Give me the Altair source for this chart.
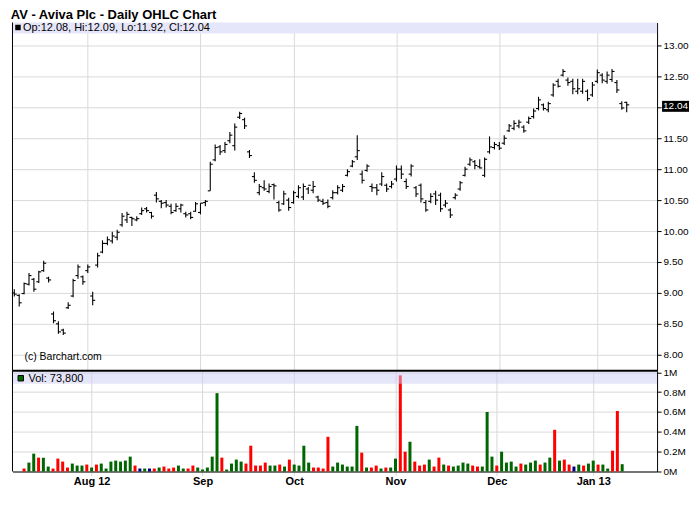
import altair as alt
import pandas as pd

# ---------------- data ----------------
bar_index = list(range(1, 127))

highs = [9.06, 8.98, 9.17, 9.32, 9.24, 9.36, 9.52, 9.26, 8.70, 8.54,
         8.42, 8.85, 9.23, 9.46, 9.28, 9.46, 9.02, 9.65, 9.85, 9.91,
         9.99, 10.02, 10.29, 10.31, 10.23, 10.24, 10.38, 10.39, 10.31, 10.63,
         10.50, 10.50, 10.44, 10.45, 10.44, 10.31, 10.31, 10.47, 10.45, 10.50,
         11.12, 11.40, 11.39, 11.44, 11.60, 11.74, 11.93, 11.83, 11.31, 10.95,
         10.76, 10.82, 10.77, 10.77, 10.49, 10.65, 10.54, 10.65, 10.74, 10.77,
         10.71, 10.81, 10.57, 10.52, 10.51, 10.66, 10.74, 10.76, 11.00, 11.15,
         11.55, 10.98, 11.08, 10.77, 10.76, 10.95, 10.77, 10.81, 11.06, 11.06,
         10.85, 11.08, 10.73, 10.77, 10.50, 10.61, 10.65, 10.62, 10.50, 10.37,
         10.61, 10.81, 11.04, 11.19, 11.15, 11.16, 11.19, 11.53, 11.44, 11.44,
         11.55, 11.73, 11.79, 11.80, 11.71, 11.85, 11.98, 12.17, 12.06, 12.09,
         12.39, 12.46, 12.62, 12.48, 12.46, 12.46, 12.46, 12.29, 12.41, 12.61,
         12.55, 12.58, 12.62, 12.44, 12.10, 12.09]

lows = [8.94, 8.78, 8.98, 9.12, 9.02, 9.16, 9.34, 9.17, 8.51, 8.34,
        8.32, 8.74, 8.93, 9.23, 9.13, 9.32, 8.80, 9.41, 9.64, 9.77,
        9.80, 9.85, 10.07, 10.13, 10.08, 10.16, 10.26, 10.30, 10.20, 10.46,
        10.37, 10.38, 10.27, 10.31, 10.30, 10.22, 10.19, 10.31, 10.27, 10.40,
        10.65, 11.13, 11.23, 11.26, 11.42, 11.30, 11.81, 11.65, 11.18, 10.78,
        10.58, 10.65, 10.61, 10.51, 10.31, 10.42, 10.33, 10.44, 10.53, 10.50,
        10.60, 10.61, 10.47, 10.42, 10.37, 10.51, 10.59, 10.63, 10.88, 11.03,
        11.15, 10.77, 10.96, 10.63, 10.58, 10.73, 10.63, 10.69, 10.80, 10.84,
        10.68, 10.88, 10.55, 10.46, 10.31, 10.45, 10.42, 10.31, 10.38, 10.21,
        10.51, 10.65, 10.88, 11.05, 11.00, 11.01, 10.87, 11.25, 11.32, 11.31,
        11.39, 11.60, 11.63, 11.66, 11.59, 11.73, 11.82, 11.95, 11.95, 11.92,
        12.17, 12.32, 12.50, 12.35, 12.21, 12.21, 12.22, 12.10, 12.17, 12.39,
        12.39, 12.38, 12.41, 12.23, 11.96, 11.92]

opens = [9.00, 8.96, 8.99, 9.14, 9.22, 9.18, 9.36, 9.24, 8.66, 8.50,
         8.40, 8.76, 8.95, 9.28, 9.26, 9.36, 8.95, 9.45, 9.66, 9.80,
         9.84, 9.90, 10.10, 10.18, 10.22, 10.18, 10.28, 10.36, 10.30, 10.58,
         10.48, 10.46, 10.40, 10.33, 10.36, 10.28, 10.28, 10.32, 10.30, 10.46,
         10.65, 11.15, 11.36, 11.30, 11.46, 11.38, 11.84, 11.80, 11.28, 10.88,
         10.62, 10.70, 10.64, 10.75, 10.46, 10.44, 10.50, 10.46, 10.56, 10.55,
         10.68, 10.66, 10.55, 10.48, 10.46, 10.54, 10.62, 10.66, 10.90, 11.05,
         11.20, 10.92, 10.98, 10.72, 10.70, 10.76, 10.74, 10.72, 10.84, 11.00,
         10.80, 10.92, 10.70, 10.74, 10.46, 10.48, 10.60, 10.58, 10.42, 10.34,
         10.54, 10.68, 10.90, 11.08, 11.12, 11.04, 10.90, 11.28, 11.35, 11.38,
         11.42, 11.62, 11.66, 11.70, 11.68, 11.76, 11.85, 11.98, 12.04, 11.96,
         12.20, 12.42, 12.52, 12.44, 12.42, 12.26, 12.26, 12.26, 12.20, 12.42,
         12.52, 12.42, 12.45, 12.40, 12.06, 12.08]

closes = [8.98, 8.84, 9.15, 9.28, 9.06, 9.34, 9.48, 9.21, 8.55, 8.37,
          8.35, 8.80, 9.20, 9.42, 9.18, 9.42, 8.88, 9.60, 9.80, 9.86,
          9.92, 9.98, 10.24, 10.27, 10.20, 10.20, 10.33, 10.33, 10.24, 10.52,
          10.45, 10.42, 10.30, 10.40, 10.42, 10.26, 10.22, 10.44, 10.45, 10.48,
          11.08, 11.35, 11.28, 11.40, 11.55, 11.68, 11.90, 11.70, 11.22, 10.82,
          10.72, 10.68, 10.72, 10.73, 10.34, 10.60, 10.38, 10.62, 10.70, 10.72,
          10.74, 10.72, 10.50, 10.45, 10.40, 10.62, 10.70, 10.72, 10.96, 11.12,
          11.30, 10.82, 11.05, 10.70, 10.66, 10.88, 10.68, 10.76, 11.00, 10.92,
          10.72, 11.05, 10.60, 10.52, 10.34, 10.56, 10.50, 10.36, 10.45, 10.26,
          10.58, 10.78, 11.00, 11.15, 11.06, 11.02, 11.16, 11.36, 11.40, 11.34,
          11.50, 11.70, 11.74, 11.76, 11.62, 11.82, 11.94, 12.12, 11.98, 12.06,
          12.36, 12.34, 12.58, 12.40, 12.30, 12.30, 12.42, 12.14, 12.36, 12.56,
          12.44, 12.52, 12.58, 12.28, 11.99, 12.04]

# volume in millions of shares
volumes = [0.0, 0.03, 0.09, 0.18, 0.14, 0.14, 0.05, 0.03, 0.13, 0.10,
           0.04, 0.08, 0.06, 0.06, 0.07, 0.04, 0.07, 0.08, 0.03, 0.10,
           0.11, 0.10, 0.11, 0.15, 0.06, 0.03, 0.03, 0.03, 0.03, 0.04,
           0.05, 0.03, 0.04, 0.06, 0.03, 0.03, 0.06, 0.04, 0.02, 0.04,
           0.15, 0.79, 0.14, 0.02, 0.08, 0.12, 0.10, 0.08, 0.26, 0.06,
           0.06, 0.09, 0.06, 0.06, 0.07, 0.05, 0.12, 0.07, 0.06, 0.26,
           0.09, 0.04, 0.04, 0.03, 0.35, 0.05, 0.09, 0.07, 0.05, 0.05,
           0.46, 0.19, 0.04, 0.04, 0.06, 0.03, 0.04, 0.04, 0.13, 0.97,
           0.20, 0.30, 0.10, 0.06, 0.07, 0.12, 0.05, 0.14, 0.07, 0.06,
           0.05, 0.06, 0.09, 0.08, 0.06, 0.05, 0.05, 0.60, 0.15, 0.06,
           0.20, 0.09, 0.10, 0.05, 0.08, 0.07, 0.09, 0.11, 0.07, 0.09,
           0.14, 0.42, 0.11, 0.12, 0.07, 0.05, 0.07, 0.06, 0.08, 0.11,
           0.07, 0.07, 0.03, 0.21, 0.61, 0.0738]

# volume bar colour: u = close up, d = close down, n = unchanged
vol_dir = ["u", "d", "u", "u", "d", "u", "u", "d", "d", "d",
           "d", "u", "u", "u", "d", "u", "d", "u", "u", "u",
           "u", "u", "u", "u", "d", "n", "u", "n", "d", "u",
           "d", "d", "d", "u", "u", "d", "d", "u", "u", "u",
           "u", "u", "d", "u", "u", "u", "u", "d", "d", "d",
           "d", "d", "u", "u", "d", "u", "d", "u", "u", "u",
           "u", "d", "d", "d", "d", "u", "u", "u", "u", "u",
           "u", "d", "u", "d", "d", "u", "d", "u", "u", "d",
           "d", "u", "d", "d", "d", "u", "d", "d", "u", "d",
           "u", "u", "u", "u", "d", "d", "u", "u", "u", "d",
           "u", "u", "u", "u", "d", "u", "u", "u", "d", "u",
           "u", "d", "u", "d", "d", "n", "u", "d", "u", "u",
           "d", "u", "u", "d", "d", "u"]

month_ticks = [16, 39, 58, 79, 100, 120]
month_labels = ["Aug 12", "Sep", "Oct", "Nov", "Dec", "Jan 13"]
price_ticks = [8.0, 8.5, 9.0, 9.5, 10.0, 10.5, 11.0, 11.5, 12.0, 12.5, 13.0]
vol_ticks = [0.0, 0.2, 0.4, 0.6, 0.8, 1.0]
vol_last_text = "73,800"
title_text = "AV - Aviva Plc - Daily OHLC Chart"
copyright_text = "(c) Barchart.com"

dir_name = {"u": "up", "d": "down", "n": "unch"}

df = pd.DataFrame({
    "i": bar_index,
    "open": opens,
    "high": highs,
    "low": lows,
    "close": closes,
    "vol": volumes,
    "dir": [dir_name[d] for d in vol_dir],
})

# ---------------- styling ----------------
W = 646
PRICE_H = 349
VOL_H = 101
GRID = "#d9d9d9"
BAND = "#e6e6fa"
FONT = "Liberation Sans"

x_scale = alt.Scale(domain=[0.63, 132.2], nice=False, zero=False)
p_scale = alt.Scale(domain=[7.742, 13.371], nice=False, zero=False)
v_scale = alt.Scale(domain=[0, 1.016], nice=False, zero=False)


def month_expr():
    expr = "''"
    for t, lab in zip(reversed(month_ticks), reversed(month_labels)):
        expr = f"datum.value == {t} ? '{lab}' : ({expr})"
    return expr


one = pd.DataFrame({"k": [0]})
last = pd.DataFrame({"close": [closes[-1]], "lbl": [f"{closes[-1]:.2f}"]})

header_text = (f"Op:{opens[-1]:.2f}, Hi:{highs[-1]:.2f}, "
               f"Lo:{lows[-1]:.2f}, Cl:{closes[-1]:.2f}")

px_axis = alt.Axis(values=month_ticks, labels=False, ticks=False,
                   domain=False, grid=True, gridColor=GRID, title=None,
                   minExtent=0, maxExtent=0, offset=0)
py_axis = alt.Axis(orient="right", values=price_ticks,
                   labelExpr="datum.value == 12 ? '' : format(datum.value, '.2f')",
                   tickSize=4, tickColor="black", domainColor="black",
                   labelColor="black", labelFontSize=10, labelFont=FONT,
                   labelPadding=2, grid=True, gridColor=GRID, title=None)

# ---------------- price panel ----------------
hl = alt.Chart(df).mark_rule(color="black", strokeWidth=1.1).encode(
    x=alt.X("i:Q", scale=x_scale, axis=px_axis),
    y=alt.Y("low:Q", scale=p_scale, axis=py_axis),
    y2="high:Q",
)

open_tick = alt.Chart(df).mark_rule(color="black", strokeWidth=1.1,
                                    xOffset=-2.5, x2Offset=0).encode(
    x=alt.X("i:Q", scale=x_scale, axis=px_axis),
    x2="i:Q",
    y=alt.Y("open:Q", scale=p_scale, axis=py_axis),
)

close_tick = alt.Chart(df).mark_rule(color="black", strokeWidth=1.1,
                                     xOffset=0, x2Offset=2.5).encode(
    x=alt.X("i:Q", scale=x_scale, axis=px_axis),
    x2="i:Q",
    y=alt.Y("close:Q", scale=p_scale, axis=py_axis),
)

p_band = alt.Chart(one).mark_rect(color=BAND).encode(
    x=alt.value(0), x2=alt.value(W), y=alt.value(0), y2=alt.value(11))

p_square = alt.Chart(one).mark_point(shape="square", filled=True, size=30,
                                     color="black", opacity=1).encode(
    x=alt.value(5.5), y=alt.value(5))

p_text = alt.Chart(one).mark_text(align="left", baseline="middle", font=FONT,
                                  fontSize=11, color="black").encode(
    x=alt.value(10.5), y=alt.value(5.5), text=alt.value(header_text))

copyright = alt.Chart(one).mark_text(align="left", baseline="middle", font=FONT,
                                     fontSize=10.5, color="black").encode(
    x=alt.value(12), y=alt.value(PRICE_H - 14), text=alt.value(copyright_text))

p_left = alt.Chart(one).mark_rule(color="black", strokeWidth=1).encode(
    x=alt.value(0), y=alt.value(0), y2=alt.value(PRICE_H))

last_box = alt.Chart(last).mark_rect(color="black", yOffset=-4, y2Offset=7).encode(
    x=alt.value(W + 5), x2=alt.value(W + 32),
    y=alt.Y("close:Q", scale=p_scale, axis=py_axis), y2="close:Q")

last_text = alt.Chart(last).mark_text(align="left", baseline="middle", font=FONT,
                                      fontSize=10, color="white", dy=1.5).encode(
    x=alt.value(W + 6), y=alt.Y("close:Q", scale=p_scale, axis=py_axis),
    text="lbl:N")

price = alt.layer(hl, open_tick, close_tick, p_band, p_square, p_text,
                  copyright, p_left, last_box, last_text).properties(
    width=W, height=PRICE_H)

# ---------------- volume panel ----------------
bars = alt.Chart(df).mark_bar(size=3).encode(
    x=alt.X("i:Q", scale=x_scale,
            axis=alt.Axis(values=month_ticks, labelExpr=month_expr(),
                          labelFont=FONT, labelFontSize=11, labelFontWeight="bold",
                          labelColor="black", tickColor=GRID, tickSize=4,
                          domainColor="black", grid=True, gridColor=GRID,
                          labelPadding=0, title=None)),
    y=alt.Y("vol:Q", scale=v_scale,
            axis=alt.Axis(orient="right", values=vol_ticks,
                          labelExpr="datum.value == 0 ? '0M' : (datum.value == 1 ? '1M' : format(datum.value, '.1f') + 'M')",
                          tickSize=4, tickColor="black", domainColor="black",
                          labelColor="black", labelFontSize=10, labelFont=FONT,
                          labelPadding=2, grid=True, gridColor=GRID, title=None)),
    color=alt.Color("dir:N",
                    scale=alt.Scale(domain=["up", "down", "unch"],
                                    range=["#006600", "#ff0000", "#000080"]),
                    legend=None),
)

v_band = alt.Chart(one).mark_rect(color="#cdcdf5", opacity=0.5).encode(
    x=alt.value(0), x2=alt.value(W), y=alt.value(1), y2=alt.value(13))

v_square = alt.Chart(one).mark_point(shape="square", filled=True, size=30,
                                     color="#006600", stroke="black",
                                     strokeWidth=1, opacity=1).encode(
    x=alt.value(8.3), y=alt.value(7.5))

v_text = alt.Chart(one).mark_text(align="left", baseline="middle", font=FONT,
                                  fontSize=11, color="black").encode(
    x=alt.value(16), y=alt.value(8), text=alt.value("Vol: " + vol_last_text))

v_left = alt.Chart(one).mark_rule(color="black", strokeWidth=1).encode(
    x=alt.value(0), y=alt.value(0), y2=alt.value(VOL_H))

separator = alt.Chart(one).mark_rule(color="black", strokeWidth=2).encode(
    x=alt.value(0), x2=alt.value(W), y=alt.value(0))

volume = alt.layer(bars, v_band, v_square, v_text, v_left, separator).properties(
    width=W, height=VOL_H)

chart = alt.vconcat(price, volume, spacing=0, bounds="flush").properties(
    title=alt.TitleParams(title_text, anchor="start", fontSize=13,
                          fontWeight="bold", font=FONT, color="black", offset=0),
    padding={"left": 2.5, "top": 0, "right": 2, "bottom": 2},
).configure_view(stroke="transparent").configure_concat(spacing=0)

chart.save("out.html", embed_options={"renderer": "svg", "actions": False})
